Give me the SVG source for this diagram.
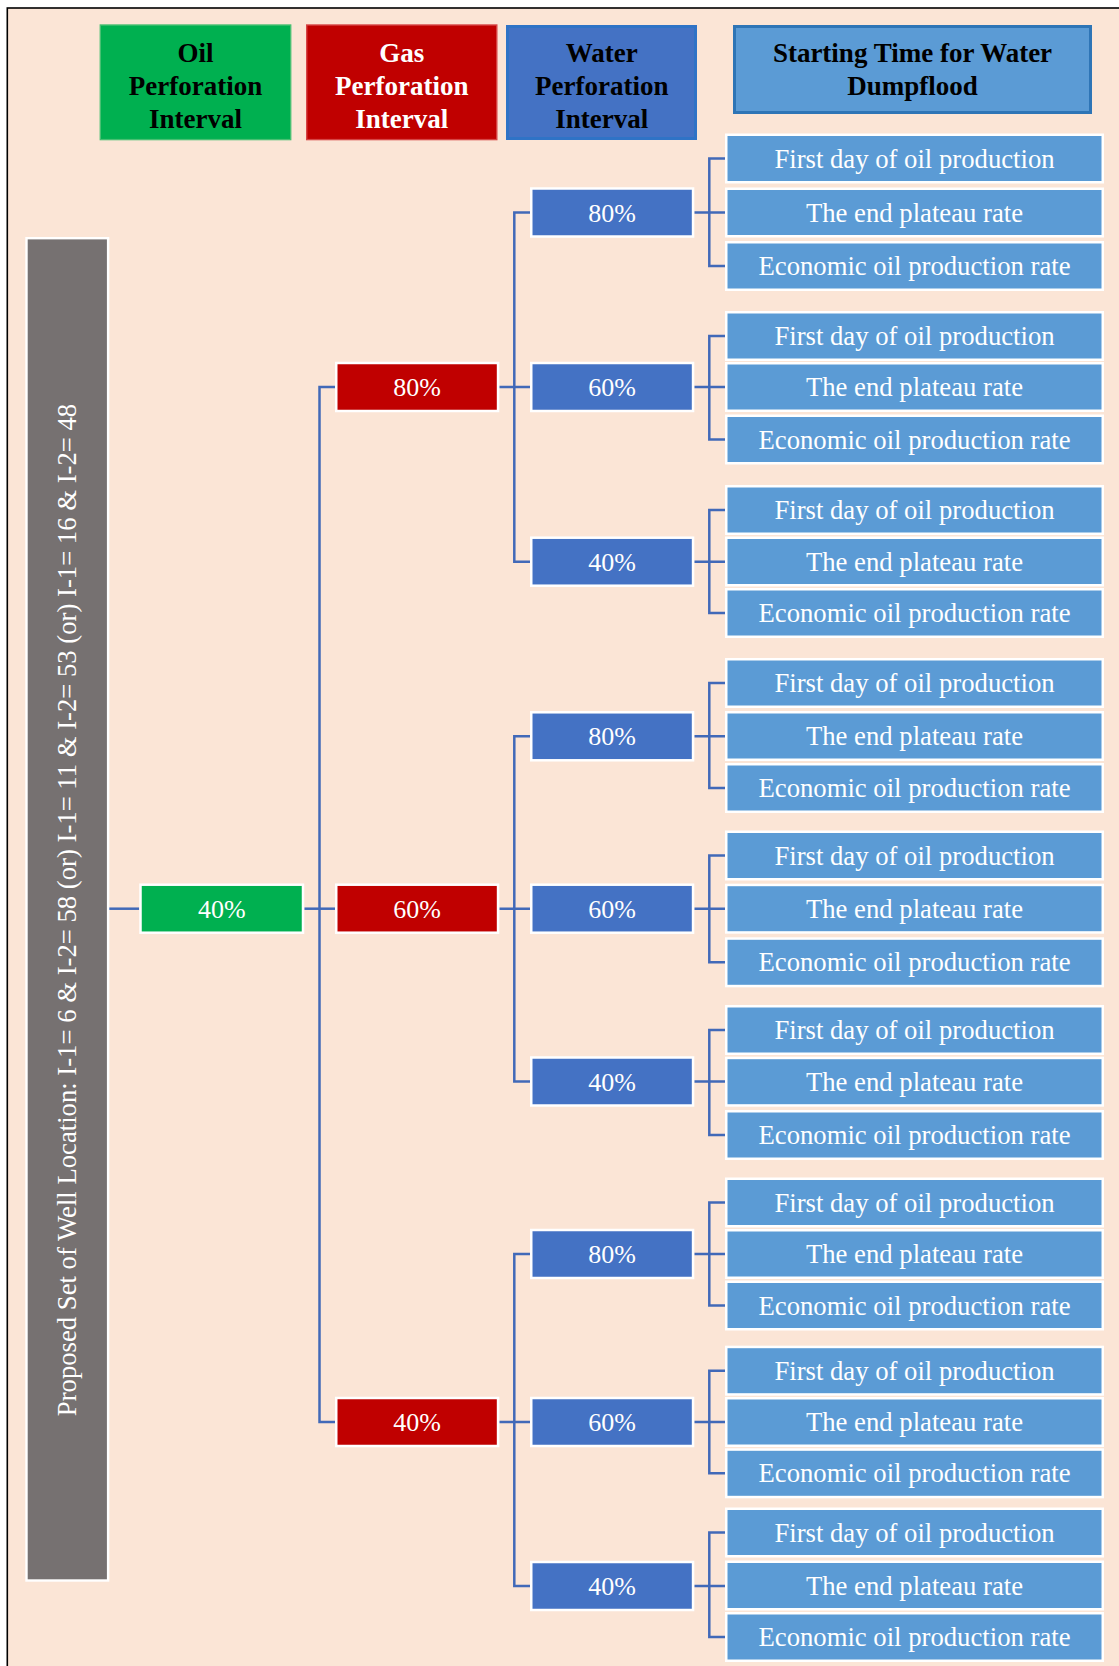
<svg xmlns="http://www.w3.org/2000/svg" width="1119" height="1666" viewBox="0 0 1119 1666">
<defs>
<style>
.leaf{fill:#5B9BD5;stroke:#FFFFFF;stroke-width:2.5}
.water{fill:#4472C4;stroke:#FFFFFF;stroke-width:2.5}
.gas{fill:#C00000;stroke:#FFFFFF;stroke-width:2.5}
.oil{fill:#00B050;stroke:#FFFFFF;stroke-width:2.5}
.grey{fill:#767171;stroke:#FFFFFF;stroke-width:2.4}
.t{font-family:"Liberation Serif","Times New Roman",serif;fill:#FFFFFF;text-anchor:middle}
.lt{font-size:26.7px}
.pt{font-size:26px}
.ht{font-size:27px;font-weight:bold}
.blk{fill:#000000}
.conn{fill:none;stroke:#4169B8;stroke-width:2.5}
</style>
</defs>
<rect x="0" y="0" width="1119" height="1666" fill="#FFFFFF"/>
<rect x="7.3" y="8" width="1200" height="1700" fill="#FBE5D6" stroke="#000000" stroke-width="1.6"/>

<g id="header-oil">
<rect x="100.3" y="25" width="190.4" height="114.6" fill="#00B050" stroke="#47C072" stroke-width="1.4"/>
<text class="t ht blk" x="195.5" y="62">Oil</text>
<text class="t ht blk" x="195.5" y="95">Perforation</text>
<text class="t ht blk" x="195.5" y="128">Interval</text>
</g>
<g id="header-gas">
<rect x="306.7" y="25" width="190.1" height="114.6" fill="#C00000" stroke="#D64545" stroke-width="1.4"/>
<text class="t ht" x="401.8" y="62">Gas</text>
<text class="t ht" x="401.8" y="95">Perforation</text>
<text class="t ht" x="401.8" y="128">Interval</text>
</g>
<g id="header-water">
<rect x="507.5" y="26.5" width="188" height="112" fill="#4472C4" stroke="#2F73C6" stroke-width="3"/>
<text class="t ht blk" x="601.7" y="62">Water</text>
<text class="t ht blk" x="601.7" y="95">Perforation</text>
<text class="t ht blk" x="601.7" y="128">Interval</text>
</g>
<g id="header-start">
<rect x="734.5" y="26.5" width="356" height="86" fill="#5B9BD5" stroke="#2E75B6" stroke-width="3"/>
<text class="t ht blk" x="912.5" y="62">Starting Time for Water</text>
<text class="t ht blk" x="912.5" y="95">Dumpflood</text>
</g>

<g id="connectors">
<path class="conn" d="M109,908.7 H139.3"/>
<path class="conn" d="M304.3,908.7 H335"/>
<path class="conn" d="M335,387 H319.5 V1422 H335"/>
<path class="conn" d="M499.3,387 H530 M530,212.5 H514.3 V561.7 H530"/>
<path class="conn" d="M499.3,908.7 H530 M530,736.3 H514.3 V1081.5 H530"/>
<path class="conn" d="M499.3,1422 H530 M530,1254 H514.3 V1586 H530"/>
<path class="conn" d="M694.3,212.5 H725 M725,158.5 H709.3 V266 H725"/>
<path class="conn" d="M694.3,387 H725 M725,336 H709.3 V439.5 H725"/>
<path class="conn" d="M694.3,561.7 H725 M725,510 H709.3 V613 H725"/>
<path class="conn" d="M694.3,736.3 H725 M725,683 H709.3 V788 H725"/>
<path class="conn" d="M694.3,908.7 H725 M725,855.5 H709.3 V962.3 H725"/>
<path class="conn" d="M694.3,1081.5 H725 M725,1030 H709.3 V1135 H725"/>
<path class="conn" d="M694.3,1254 H725 M725,1202.5 H709.3 V1305.5 H725"/>
<path class="conn" d="M694.3,1422 H725 M725,1370.7 H709.3 V1473.3 H725"/>
<path class="conn" d="M694.3,1586 H725 M725,1532.5 H709.3 V1637 H725"/>
</g>

<g id="well-location">
<rect class="grey" x="26.5" y="238.2" width="81.6" height="1342.3"/>
<text class="t lt" transform="translate(75.7,910) rotate(-90)" x="0" y="0">Proposed Set of Well Location: I-1= 6 &amp; I-2= 58 (or) I-1= 11 &amp; I-2= 53 (or) I-1= 16 &amp; I-2= 48</text>
</g>

<g id="oil-40">
<rect class="oil" x="140.5" y="884.7" width="162.5" height="48"/>
<text class="t pt" x="221.8" y="917.7">40%</text>
</g>

<g id="gas-80">
<rect class="gas" x="336.25" y="363" width="161.8" height="48"/>
<text class="t pt" x="417.2" y="396">80%</text>
</g>
<g id="gas-60">
<rect class="gas" x="336.25" y="884.7" width="161.8" height="48"/>
<text class="t pt" x="417.2" y="917.7">60%</text>
</g>
<g id="gas-40">
<rect class="gas" x="336.25" y="1398" width="161.8" height="48"/>
<text class="t pt" x="417.2" y="1431">40%</text>
</g>

<g id="water-1">
<rect class="water" x="531.25" y="188.5" width="161.8" height="48"/>
<text class="t pt" x="612.2" y="221.5">80%</text>
</g>
<g id="water-2">
<rect class="water" x="531.25" y="363" width="161.8" height="48"/>
<text class="t pt" x="612.2" y="396">60%</text>
</g>
<g id="water-3">
<rect class="water" x="531.25" y="537.7" width="161.8" height="48"/>
<text class="t pt" x="612.2" y="570.7">40%</text>
</g>
<g id="water-4">
<rect class="water" x="531.25" y="712.3" width="161.8" height="48"/>
<text class="t pt" x="612.2" y="745.3">80%</text>
</g>
<g id="water-5">
<rect class="water" x="531.25" y="884.7" width="161.8" height="48"/>
<text class="t pt" x="612.2" y="917.7">60%</text>
</g>
<g id="water-6">
<rect class="water" x="531.25" y="1057.5" width="161.8" height="48"/>
<text class="t pt" x="612.2" y="1090.5">40%</text>
</g>
<g id="water-7">
<rect class="water" x="531.25" y="1230" width="161.8" height="48"/>
<text class="t pt" x="612.2" y="1263">80%</text>
</g>
<g id="water-8">
<rect class="water" x="531.25" y="1398" width="161.8" height="48"/>
<text class="t pt" x="612.2" y="1431">60%</text>
</g>
<g id="water-9">
<rect class="water" x="531.25" y="1562" width="161.8" height="48"/>
<text class="t pt" x="612.2" y="1595">40%</text>
</g>

<g id="leaf-1a"><rect class="leaf" x="726.25" y="134.75" width="376.5" height="47.5"/><text class="t lt" x="914.5" y="167.5">First day of oil production</text></g>
<g id="leaf-1b"><rect class="leaf" x="726.25" y="188.75" width="376.5" height="47.5"/><text class="t lt" x="914.5" y="221.5">The end plateau rate</text></g>
<g id="leaf-1c"><rect class="leaf" x="726.25" y="242.25" width="376.5" height="47.5"/><text class="t lt" x="914.5" y="275">Economic oil production rate</text></g>

<g id="leaf-2a"><rect class="leaf" x="726.25" y="312.25" width="376.5" height="47.5"/><text class="t lt" x="914.5" y="345">First day of oil production</text></g>
<g id="leaf-2b"><rect class="leaf" x="726.25" y="363.25" width="376.5" height="47.5"/><text class="t lt" x="914.5" y="396">The end plateau rate</text></g>
<g id="leaf-2c"><rect class="leaf" x="726.25" y="415.75" width="376.5" height="47.5"/><text class="t lt" x="914.5" y="448.5">Economic oil production rate</text></g>

<g id="leaf-3a"><rect class="leaf" x="726.25" y="486.25" width="376.5" height="47.5"/><text class="t lt" x="914.5" y="519">First day of oil production</text></g>
<g id="leaf-3b"><rect class="leaf" x="726.25" y="537.75" width="376.5" height="47.5"/><text class="t lt" x="914.5" y="570.5">The end plateau rate</text></g>
<g id="leaf-3c"><rect class="leaf" x="726.25" y="589.25" width="376.5" height="47.5"/><text class="t lt" x="914.5" y="622">Economic oil production rate</text></g>

<g id="leaf-4a"><rect class="leaf" x="726.25" y="659.25" width="376.5" height="47.5"/><text class="t lt" x="914.5" y="692">First day of oil production</text></g>
<g id="leaf-4b"><rect class="leaf" x="726.25" y="712.25" width="376.5" height="47.5"/><text class="t lt" x="914.5" y="745">The end plateau rate</text></g>
<g id="leaf-4c"><rect class="leaf" x="726.25" y="764.25" width="376.5" height="47.5"/><text class="t lt" x="914.5" y="797">Economic oil production rate</text></g>

<g id="leaf-5a"><rect class="leaf" x="726.25" y="831.75" width="376.5" height="47.5"/><text class="t lt" x="914.5" y="864.5">First day of oil production</text></g>
<g id="leaf-5b"><rect class="leaf" x="726.25" y="884.95" width="376.5" height="47.5"/><text class="t lt" x="914.5" y="917.7">The end plateau rate</text></g>
<g id="leaf-5c"><rect class="leaf" x="726.25" y="938.55" width="376.5" height="47.5"/><text class="t lt" x="914.5" y="971.3">Economic oil production rate</text></g>

<g id="leaf-6a"><rect class="leaf" x="726.25" y="1006.25" width="376.5" height="47.5"/><text class="t lt" x="914.5" y="1039">First day of oil production</text></g>
<g id="leaf-6b"><rect class="leaf" x="726.25" y="1057.95" width="376.5" height="47.5"/><text class="t lt" x="914.5" y="1090.7">The end plateau rate</text></g>
<g id="leaf-6c"><rect class="leaf" x="726.25" y="1111.25" width="376.5" height="47.5"/><text class="t lt" x="914.5" y="1144">Economic oil production rate</text></g>

<g id="leaf-7a"><rect class="leaf" x="726.25" y="1178.75" width="376.5" height="47.5"/><text class="t lt" x="914.5" y="1211.5">First day of oil production</text></g>
<g id="leaf-7b"><rect class="leaf" x="726.25" y="1230.25" width="376.5" height="47.5"/><text class="t lt" x="914.5" y="1263">The end plateau rate</text></g>
<g id="leaf-7c"><rect class="leaf" x="726.25" y="1281.75" width="376.5" height="47.5"/><text class="t lt" x="914.5" y="1314.5">Economic oil production rate</text></g>

<g id="leaf-8a"><rect class="leaf" x="726.25" y="1346.95" width="376.5" height="47.5"/><text class="t lt" x="914.5" y="1379.7">First day of oil production</text></g>
<g id="leaf-8b"><rect class="leaf" x="726.25" y="1398.25" width="376.5" height="47.5"/><text class="t lt" x="914.5" y="1431">The end plateau rate</text></g>
<g id="leaf-8c"><rect class="leaf" x="726.25" y="1449.55" width="376.5" height="47.5"/><text class="t lt" x="914.5" y="1482.3">Economic oil production rate</text></g>

<g id="leaf-9a"><rect class="leaf" x="726.25" y="1508.75" width="376.5" height="47.5"/><text class="t lt" x="914.5" y="1541.5">First day of oil production</text></g>
<g id="leaf-9b"><rect class="leaf" x="726.25" y="1561.75" width="376.5" height="47.5"/><text class="t lt" x="914.5" y="1594.5">The end plateau rate</text></g>
<g id="leaf-9c"><rect class="leaf" x="726.25" y="1613.25" width="376.5" height="47.5"/><text class="t lt" x="914.5" y="1646">Economic oil production rate</text></g>
</svg>
